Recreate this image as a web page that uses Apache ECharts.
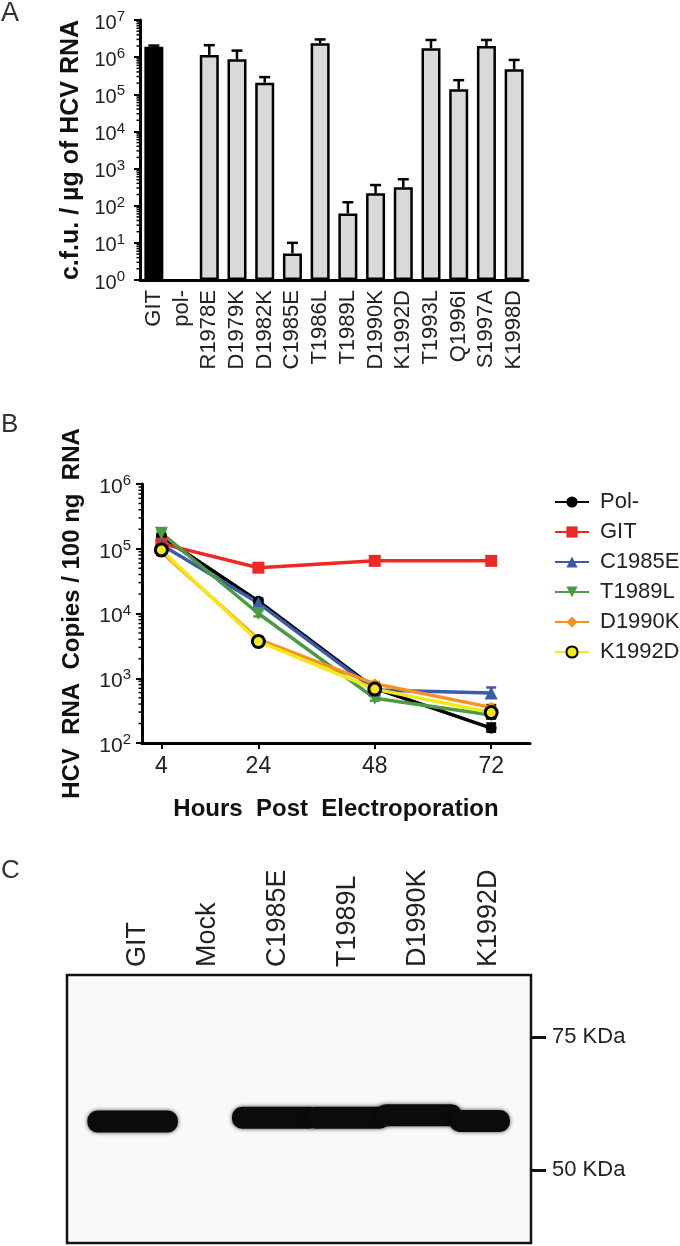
<!DOCTYPE html>
<html><head><meta charset="utf-8">
<script src="https://cdn.jsdelivr.net/npm/echarts@6/dist/echarts.min.js"></script>
<style>html,body{margin:0;padding:0;background:#fff}#c{width:680px;height:1246px}</style>
</head><body><div id="c"></div>
<script>
// ---------- Panel A data ----------
const mutants = ['GIT','pol-','R1978E','D1979K','D1982K','C1985E','T1986L','T1989L','D1990K','K1992D','T1993L','Q1996I','S1997A','K1998D'];
const cfuMean  = [1.9e6, null, 1.15e6, 8.8e5, 2.05e5, 5.2, 2.35e6, 62, 215, 314, 1.73e6, 1.36e5, 2.0e6, 4.7e5];
const cfuUpper = [2.05e6, null, 2.1e6, 1.5e6, 2.9e5, 10, 3.0e6, 124, 360, 515, 2.9e6, 2.4e5, 2.9e6, 8.4e5];

// ---------- Panel B data ----------
const hours = [4, 24, 48, 72];
const seriesNames = ['Pol-','GIT','C1985E','T1989L','D1990K','K1992D'];
const polMinus = [1.55e5, 1.55e4, 7.0e2, 1.7e2];
const git      = [1.2e5, 5.1e4, 6.5e4, 6.5e4];
const c1985e   = [1.15e5, 1.45e4, 6.6e2, 5.9e2];
const t1989l   = [1.74e5, 1.0e4, 4.9e2, 2.7e2];
const d1990k   = [8.9e4, 4.0e3, 8.2e2, 3.55e2];
const k1992d   = [9.6e4, 3.7e3, 6.8e2, 2.95e2];
const polMinusErr = [[1.4e5,1.7e5],[1.4e4,1.7e4],[5.6e2,8.5e2],[1.5e2,2.0e2]];
const gitErr      = [[8.0e4,1.6e5],[4.7e4,5.5e4],[6.2e4,7.0e4],[6.2e4,7.0e4]];
const c1985eErr   = [[1.0e5,1.3e5],[1.3e4,1.6e4],[6.0e2,7.3e2],[5.0e2,7.2e2]];
const t1989lErr   = [[1.6e5,1.9e5],[9.0e3,1.1e4],[4.5e2,5.3e2],[2.4e2,3.0e2]];
const d1990kErr   = [[8.0e4,1.0e5],[3.6e3,4.4e3],[7.6e2,8.8e2],[3.2e2,3.9e2]];
const k1992dErr   = [[8.2e4,1.1e5],[3.2e3,4.3e3],[5.8e2,8.2e2],[2.4e2,3.8e2]];

// ---------- Panel C data ----------
const lanes = ['GIT','Mock','C1985E','T1989L','D1990K','K1992D'];
const bandKDa = [59.1, null, 59.8, 59.8, 60.3, 59.2];
const bandSpan = [[-0.71,0.58], null, [1.35,2.6], [2.4,3.6], [3.4,4.62], [4.45,5.31]];
const markerKDa = [75, 50];

// ---------- helpers ----------
const FONT = '"Liberation Sans", Arial, Helvetica, sans-serif';
const INK = '#222';
function minorLogTicks(lo, hi) {
  const out = [];
  for (let d = lo; d < hi; d *= 10) for (let k = 2; k <= 9; k++) out.push(d * k);
  return out;
}
const powFmt = v => '{b|10}{s|' + Math.round(Math.log10(v)) + '}';
const blackLine = w => ({show: true, onZero: false, lineStyle: {color: '#000', width: w}});

function logAxis(grid, min, max, name, gap, nameSize, labelSize, margin) {
  return {
    gridIndex: grid, type: 'log', logBase: 10, min: min, max: max,
    splitNumber: Math.round(Math.log10(max / min)),
    axisLine: blackLine(3),
    axisTick: {show: true, length: 6, lineStyle: {color: '#000', width: 2}},
    axisLabel: {formatter: powFmt, margin: margin, rich: {
      b: {fontSize: labelSize, color: INK, fontFamily: FONT, padding: [6,0,0,0]},
      s: {fontSize: 15, color: INK, fontFamily: FONT, padding: [0,0,6,0]}
    }},
    splitLine: {show: false},
    name: name, nameLocation: 'middle', nameGap: gap,
    nameTextStyle: {fontSize: nameSize, fontWeight: 'bold', color: '#111', fontFamily: FONT}
  };
}

// minor log ticks drawn at the left edge of the grid, positioned by the axis scale
function minorTickRender(params, api) {
  const y = api.coord([0, api.value(1)])[1];
  const x = params.coordSys.x;
  return {type: 'line', shape: {x1: x - 3.5, y1: y, x2: x, y2: y}, style: {stroke: '#000', lineWidth: 1.5}};
}

// error bar renderer (vertical line with caps)
function errRender(color, capHalf, lowCap) {
  return function (params, api) {
    const x = api.value(0), lo = api.value(1), hi = api.value(2);
    const pLo = api.coord([x, lo]), pHi = api.coord([x, hi]);
    const style = {stroke: color, lineWidth: 2.5};
    const children = [
      {type: 'line', shape: {x1: pLo[0], y1: pLo[1], x2: pHi[0], y2: pHi[1]}, style: style},
      {type: 'line', shape: {x1: pHi[0]-capHalf, y1: pHi[1], x2: pHi[0]+capHalf, y2: pHi[1]}, style: style}
    ];
    if (lowCap) children.push({type: 'line', shape: {x1: pLo[0]-capHalf, y1: pLo[1], x2: pLo[0]+capHalf, y2: pLo[1]}, style: style});
    return {type: 'group', children: children};
  };
}

const lineDefs = [
  {name: 'Pol-',   data: polMinus, err: polMinusErr, color: '#000000', symbol: 'circle',   size: 11, rot: 0,   errColor: '#000'},
  {name: 'GIT',    data: git,      err: gitErr,      color: '#ec2a25', symbol: 'rect',     size: 12, rot: 0,   errColor: '#ec2a25'},
  {name: 'C1985E', data: c1985e,   err: c1985eErr,   color: '#3a5ba8', symbol: 'triangle', size: 13, rot: 0,   errColor: '#3a5ba8'},
  {name: 'T1989L', data: t1989l,   err: t1989lErr,   color: '#4b9a46', symbol: 'triangle', size: 13, rot: 180, errColor: '#4b9a46'},
  {name: 'D1990K', data: d1990k,   err: d1990kErr,   color: '#f7921e', symbol: 'diamond',  size: 11, rot: 0,   errColor: '#f7921e'},
  {name: 'K1992D', data: k1992d,   err: k1992dErr,   color: '#f6e816', symbol: 'circle',   size: 12, rot: 0,   errColor: '#000'}
];

const series = [];
// Panel A bars
series.push({
  type: 'bar', xAxisIndex: 0, yAxisIndex: 0, barWidth: 19,
  data: cfuMean.map((v, i) => ({value: v, itemStyle: {color: i === 0 ? '#000' : '#d9d9d9'}})),
  itemStyle: {borderColor: '#000', borderWidth: 2.5}, z: 2
});
series.push({
  type: 'custom', xAxisIndex: 0, yAxisIndex: 0, z: 1,
  renderItem: errRender('#000', 5.5, false),
  data: cfuMean.map((v, i) => v == null ? null : [i, v, cfuUpper[i]]).filter(d => d)
});
series.push({
  type: 'custom', xAxisIndex: 0, yAxisIndex: 0, z: 3, silent: true,
  renderItem: minorTickRender,
  data: minorLogTicks(1, 1e7).map(v => [0, v])
});
// Panel B minor ticks, error bars + lines
series.push({
  type: 'custom', xAxisIndex: 1, yAxisIndex: 1, z: 3, silent: true,
  renderItem: minorTickRender,
  data: minorLogTicks(100, 1e6).map(v => [0, v])
});
lineDefs.forEach(d => {
  series.push({
    type: 'custom', xAxisIndex: 1, yAxisIndex: 1, z: 3,
    renderItem: errRender(d.errColor, 5, true),
    data: hours.map((h, i) => [h, d.err[i][0], d.err[i][1]])
  });
});
lineDefs.forEach(d => {
  series.push({
    type: 'line', name: d.name, xAxisIndex: 1, yAxisIndex: 1, z: 4,
    data: hours.map((h, i) => [h, d.data[i]]),
    symbol: d.symbol, symbolSize: d.size, symbolRotate: d.rot, showAllSymbol: true,
    lineStyle: {color: d.color, width: 3.5},
    itemStyle: d.name === 'K1992D'
      ? {color: d.color, borderColor: '#000', borderWidth: 3}
      : {color: d.color, borderWidth: 0},
    emphasis: {disabled: true}
  });
});
// Panel C bands
series.push({
  type: 'custom', xAxisIndex: 2, yAxisIndex: 2, z: 5,
  renderItem: function (params, api) {
    const i = api.value(0), kda = api.value(1);
    const span = bandSpan[i];
    const p0 = api.coord([span[0], kda]), p1 = api.coord([span[1], kda]);
    const h = 22;
    return {type: 'rect', shape: {x: p0[0], y: p0[1] - h/2, width: p1[0] - p0[0], height: h, r: 10},
      style: {fill: '#0b0b0b', shadowBlur: 4, shadowColor: 'rgba(0,0,0,0.7)'}};
  },
  data: bandKDa.map((k, i) => k == null ? null : [i, k]).filter(d => d)
});

const option = {
  animation: false,
  textStyle: {fontFamily: FONT, color: INK},
  title: [
    {text: 'A', left: 1, top: 0, padding: 0, textStyle: {fontSize: 27, fontWeight: 'normal', color: '#333', fontFamily: FONT}},
    {text: 'B', left: 1, top: 412, padding: 0, textStyle: {fontSize: 26, fontWeight: 'normal', color: '#333', fontFamily: FONT}},
    {text: 'C', left: 1, top: 858, padding: 0, textStyle: {fontSize: 26, fontWeight: 'normal', color: '#333', fontFamily: FONT}}
  ],
  legend: {
    data: seriesNames, orient: 'vertical', left: 554, top: 491, padding: 0,
    itemWidth: 34, itemHeight: 14, itemGap: 8,
    textStyle: {fontSize: 22, color: INK, fontFamily: FONT, padding: [0,0,0,6]},
    selectedMode: false
  },
  grid: [
    {left: 140, top: 20, width: 388, height: 260},
    {left: 142, top: 484, width: 388, height: 259},
    {left: 67, top: 975, width: 464, height: 268, show: true, borderColor: '#111', borderWidth: 2.5, backgroundColor: '#f9f9f9'}
  ],
  xAxis: [
    {gridIndex: 0, type: 'category', data: mutants,
      axisLine: blackLine(3),
      axisTick: {alignWithLabel: true, length: 6, lineStyle: {color: '#000', width: 2}},
      axisLabel: {rotate: 90, fontSize: 22, margin: 10, color: INK, interval: 0}},
    {gridIndex: 1, type: 'value', min: 0, max: 80,
      axisLine: blackLine(3),
      axisTick: {show: true, customValues: hours, length: 6, lineStyle: {color: '#000', width: 2}},
      axisLabel: {customValues: hours, fontSize: 23, margin: 12, color: INK},
      splitLine: {show: false},
      name: 'Hours  Post  Electroporation', nameLocation: 'middle', nameGap: 54,
      nameTextStyle: {fontSize: 24, fontWeight: 'bold', color: '#111', fontFamily: FONT}},
    {gridIndex: 2, type: 'value', position: 'top', min: -1, max: 5.61,
      axisLine: {show: false, onZero: false}, axisTick: {show: false}, splitLine: {show: false},
      axisLabel: {customValues: [0,1,2,3,4,5], formatter: v => lanes[Math.round(v)], rotate: -90, fontSize: 27, margin: 8, color: INK}}
  ],
  yAxis: [
    logAxis(0, 1, 1e7, 'c.f.u. / µg of HCV RNA', 56, 25, 20, 15),
    logAxis(1, 100, 1e6, 'HCV  RNA  Copies / 100 ng  RNA', 58, 24, 21, 11),
    {gridIndex: 2, type: 'value', position: 'right', min: 36.3, max: 86.6,
      axisLine: {show: false, onZero: false}, splitLine: {show: false},
      axisTick: {show: true, customValues: markerKDa, length: 15, lineStyle: {color: '#111', width: 3}},
      axisLabel: {customValues: markerKDa, formatter: v => v + ' KDa', fontSize: 22, margin: 21, color: INK}}
  ],
  series: series
};
const chart = echarts.init(document.getElementById('c'), null, {renderer: 'canvas'});
chart.setOption(option);
</script></body></html>
